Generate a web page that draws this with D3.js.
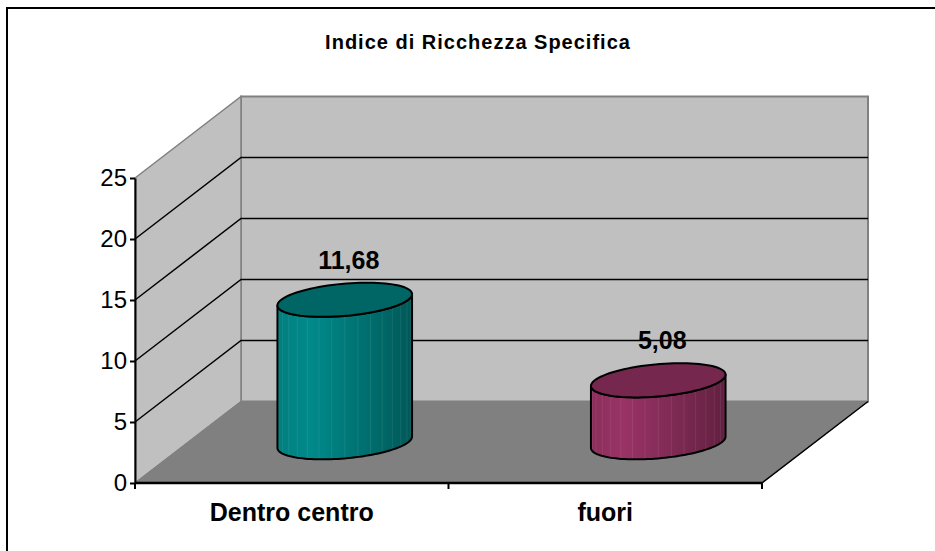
<!DOCTYPE html>
<html>
<head>
<meta charset="utf-8">
<script src="https://cdn.jsdelivr.net/npm/d3@7"></script>
<style>
  body { margin: 0; background: #fff; }
  text { font-family: Arial, "Liberation Sans", sans-serif; }
</style>
</head>
<body>
<div id="chart"></div>
<script>
const title = "Indice di Ricchezza Specifica";
const categories = ["Dentro centro", "fuori"];
const values = [11.68, 5.08];
const yTicks = [0, 5, 10, 15, 20, 25];
const bodyColors = [["#007f7f", "#008a8a", "#005858"], ["#8c2e5c", "#993366", "#622040"]];
const topColors = ["#006565", "#75274d"];

const width = 935;
const height = 551;
// oblique depth of the 3d box
const DX = 106, DY = 81.5;

const svg = d3.select("#chart")
    .append("svg")
    .attr("width", width)
    .attr("height", height);

const x = d3.scaleBand()
    .domain(categories)
    .range([135, 762]);
const y = d3.scaleLinear()
    .domain([0, 25])
    .range([483, 178]);

const fmt = d3.formatLocale({ decimal: ",", thousands: ".", grouping: [3], currency: ["", "€"] }).format(".2f");
const project = (px, v, z) => [px + z * DX, y(v) - z * DY];

// outer border
svg.append("rect")
    .attr("x", 7).attr("y", 8)
    .attr("width", 940).attr("height", 560)
    .attr("fill", "none")
    .attr("stroke", "#000")
    .attr("stroke-width", 2);

svg.append("text")
    .attr("x", 478)
    .attr("y", 49)
    .attr("text-anchor", "middle")
    .style("font-size", "20px")
    .style("font-weight", "bold")
    .style("letter-spacing", "1px")
    .text(title);

const x0 = x.range()[0], x1 = x.range()[1];
const yMax = y.domain()[1];
const poly = pts => "M" + pts.map(p => p.join(",")).join("L") + "Z";

// back wall
svg.append("path")
    .attr("d", poly([project(x0, yMax, 1), project(x1, yMax, 1), project(x1, 0, 1), project(x0, 0, 1)]))
    .attr("fill", "#c0c0c0")
    .attr("stroke", "#808080")
    .attr("stroke-width", 2);
// side wall
svg.append("path")
    .attr("d", poly([project(x0, yMax, 0), project(x0, yMax, 1), project(x0, 0, 1), project(x0, 0, 0)]))
    .attr("fill", "#c0c0c0")
    .attr("stroke", "#808080")
    .attr("stroke-width", 1.5);
// floor
svg.append("path")
    .attr("d", poly([project(x0, 0, 0), project(x0, 0, 1), project(x1, 0, 1), project(x1, 0, 0)]))
    .attr("fill", "#808080")
    .attr("stroke", "#808080")
    .attr("stroke-width", 1);

// gridlines
yTicks.filter(t => t > 0 && t < yMax).forEach(t => {
    const a = project(x0, t, 0), b = project(x0, t, 1), c = project(x1, t, 1);
    svg.append("path")
        .attr("d", "M" + a + "L" + b + "L" + c)
        .attr("fill", "none")
        .attr("stroke", "#000")
        .attr("stroke-width", 1.5);
});

// floor edges
svg.append("line")
    .attr("x1", x0).attr("y1", y(0)).attr("x2", x1).attr("y2", y(0))
    .attr("stroke", "#000").attr("stroke-width", 2.5);
svg.append("path")
    .attr("d", "M" + project(x1, 0, 0) + "L" + project(x1, 0, 1))
    .attr("stroke", "#000").attr("stroke-width", 1.5);

// y axis
const yAxis = d3.axisLeft(y).tickValues(yTicks).tickSize(5).tickSizeOuter(0).tickFormat(d3.format("d"));
const gy = svg.append("g")
    .attr("transform", `translate(${x0},0)`)
    .call(yAxis);
gy.select(".domain").attr("stroke", "#000").attr("stroke-width", 2);
gy.selectAll(".tick line").attr("stroke", "#000").attr("stroke-width", 2);
gy.selectAll(".tick text")
    .attr("x", -8)
    .style("font-family", "Arial, 'Liberation Sans', sans-serif")
    .style("font-size", "24px")
    .attr("fill", "#000");

// category ticks and labels
const boundaries = [x0, ...categories.slice(1).map(c => x(c)), x1];
svg.selectAll("line.ctick")
    .data(boundaries)
    .enter()
    .append("line")
    .attr("x1", d => d).attr("x2", d => d)
    .attr("y1", y(0)).attr("y2", y(0) + 6)
    .attr("stroke", "#000").attr("stroke-width", 2);
svg.selectAll("text.cat")
    .data(categories)
    .enter()
    .append("text")
    .attr("x", d => x(d) + x.bandwidth() / 2)
    .attr("y", 521)
    .attr("text-anchor", "middle")
    .style("font-size", "25px")
    .style("font-weight", "bold")
    .text(d => d);

// cylinders
const defs = svg.append("defs");
const rx = x.bandwidth() * 0.2026;
const rz = 0.21;
const th0 = Math.atan2(DX * rz, rx);
const ringPt = (cx, v, t) => project(cx + rx * Math.cos(t), v, 0.5 + rz * Math.sin(t));
const arcPts = (cx, v, a, b, n) => d3.range(n + 1).map(i => ringPt(cx, v, a + (b - a) * i / n));

categories.forEach((cat, i) => {
    const cx = x(cat) + x.bandwidth() / 2;
    const v = values[i];
    const g = svg.append("g");
    const gid = "grad" + i;
    const grad = defs.append("linearGradient").attr("id", gid).attr("x1", 0).attr("x2", 1).attr("y1", 0).attr("y2", 0);
    grad.append("stop").attr("offset", 0).attr("stop-color", bodyColors[i][0]);
    grad.append("stop").attr("offset", 0.25).attr("stop-color", bodyColors[i][1]);
    grad.append("stop").attr("offset", 1).attr("stop-color", bodyColors[i][2]);

    const bottomFront = arcPts(cx, 0, th0 + Math.PI, th0 + 2 * Math.PI, 60);
    const topFront = arcPts(cx, v, th0 + 2 * Math.PI, th0 + Math.PI, 60);
    g.append("path")
        .attr("d", poly(bottomFront.concat(topFront)))
        .attr("fill", `url(#${gid})`)
        .attr("stroke", "none");
    // facet lines
    d3.range(1, 16).map(k => th0 + Math.PI + Math.PI * k / 16).forEach(t => {
        const a = ringPt(cx, 0, t), b = ringPt(cx, v, t);
        g.append("line")
            .attr("x1", a[0]).attr("y1", a[1]).attr("x2", b[0]).attr("y2", b[1])
            .attr("stroke", "#ffffff").attr("stroke-opacity", 0.08).attr("stroke-width", 1);
    });
    g.append("path")
        .attr("d", poly(bottomFront.concat(topFront)))
        .attr("fill", "none")
        .attr("stroke", "#000")
        .attr("stroke-width", 2)
        .attr("stroke-linejoin", "round");
    g.append("path")
        .attr("d", poly(arcPts(cx, v, 0, 2 * Math.PI, 90)))
        .attr("fill", topColors[i])
        .attr("stroke", "#000")
        .attr("stroke-width", 2);

    const c = project(cx, v, 0.5);
    svg.append("text")
        .attr("x", c[0] + 4)
        .attr("y", c[1] - rz * DY - 14)
        .attr("text-anchor", "middle")
        .style("font-size", "25px")
        .style("font-weight", "bold")
        .text(fmt(v));
});
</script>
</body>
</html>
